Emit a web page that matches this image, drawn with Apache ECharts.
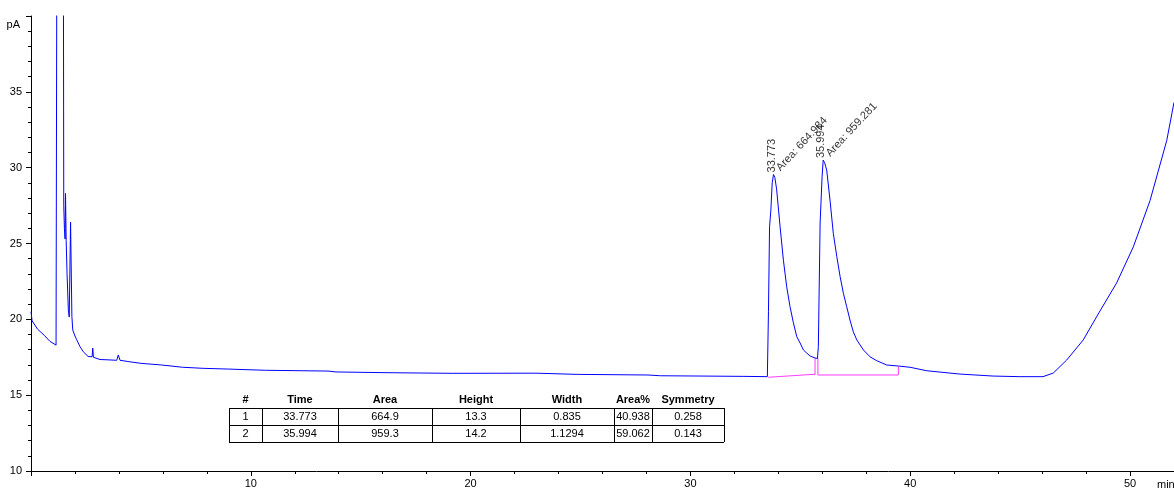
<!DOCTYPE html>
<html>
<head>
<meta charset="utf-8">
<script src="https://cdn.jsdelivr.net/npm/echarts@6/dist/echarts.min.js"></script>
<style>
html,body{margin:0;padding:0;background:#fff;}
#chart{width:1174px;height:491px;}
</style>
</head>
<body>
<div id="chart"></div>
<script>
// ---- chromatogram trace (min, pA) ----
const traceTime = [
  0.00, 0.05, 0.30, 0.60, 0.86, 1.14, 1.17, 1.18, 1.47, 1.49,
  1.52, 1.55, 1.57, 1.60, 1.64, 1.70, 1.74, 1.77, 1.80, 1.86,
  1.90, 1.95, 2.00, 2.08, 2.23, 2.38, 2.60, 2.78, 2.81, 2.84,
  3.14, 3.50, 3.90, 3.97, 4.05, 4.50, 5.00, 5.94, 6.89, 7.83,
  9.00, 10.67, 13.51, 13.88, 16.33, 19.19, 22.97, 24.86, 28.07, 28.64,
  32.43, 33.50, 33.55, 33.60, 33.66, 33.72, 33.78, 33.84, 33.92, 34.08,
  34.23, 34.38, 34.53, 34.68, 34.84, 34.99, 35.14, 35.29, 35.45, 35.67,
  35.78, 35.82, 35.90, 35.99, 36.04, 36.10, 36.20, 36.35, 36.50, 36.66,
  36.81, 36.96, 37.11, 37.26, 37.41, 37.57, 37.87, 38.17, 38.48, 38.93,
  39.46, 39.99, 40.75, 42.27, 43.77, 44.99, 46.04, 46.51, 47.12, 47.87,
  48.58, 49.39, 50.15, 50.91, 51.67, 52.00
];
const traceSignal = [
  20.50, 19.90, 19.35, 18.95, 18.55, 18.30, 18.35, 48.00, 48.00, 27.50,
  26.00, 25.30, 28.30, 25.20, 23.00, 20.60, 20.15, 20.20, 26.40, 20.20,
  19.30, 19.30, 18.90, 18.65, 18.20, 17.86, 17.55, 17.53, 18.10, 17.50,
  17.35, 17.33, 17.30, 17.65, 17.30, 17.20, 17.10, 16.99, 16.84, 16.77,
  16.72, 16.64, 16.59, 16.53, 16.48, 16.44, 16.45, 16.37, 16.33, 16.28,
  16.24, 16.22, 20.50, 26.10, 27.20, 29.00, 29.55, 29.35, 28.60, 26.10,
  23.90, 22.15, 20.85, 19.80, 18.85, 18.44, 17.98, 17.78, 17.58, 17.45,
  17.42, 18.20, 26.35, 29.40, 30.50, 30.35, 29.84, 27.86, 25.67, 24.13,
  22.81, 21.71, 20.83, 19.95, 19.18, 18.64, 17.98, 17.53, 17.27, 16.99,
  16.92, 16.84, 16.61, 16.39, 16.26, 16.22, 16.22, 16.46, 17.32, 18.64,
  20.42, 22.40, 24.78, 27.83, 31.79, 34.30
];

// ---- integration baselines (magenta) ----
const baseline1Time = [33.54, 35.67, 35.67];
const baseline1Signal = [16.18, 16.38, 17.43];
const baseline2Time = [35.80, 35.80, 39.46, 39.46];
const baseline2Signal = [17.43, 16.33, 16.33, 16.88];

// ---- peak annotations ----
const peakApexTime = [33.78, 36.04];
const peakApexSignal = [29.55, 30.50];
const peakRtLabels = ['33.773', '35.994'];
const peakAreaLabels = ['Area: 664.984', 'Area: 959.281'];

// ---- result table ----
const tableHeaders = ['#', 'Time', 'Area', 'Height', 'Width', 'Area%', 'Symmetry'];
const tableRow1 = ['1', '33.773', '664.9', '13.3', '0.835', '40.938', '0.258'];
const tableRow2 = ['2', '35.994', '959.3', '14.2', '1.1294', '59.062', '0.143'];

// ---- axes ticks ----
const xTickInterval = 10;
const yTickInterval = 5;

const FONT = '"Liberation Sans", Arial, sans-serif';
const zip = (a, b) => a.map((v, i) => [v, b[i]]);

const chart = echarts.init(document.getElementById('chart'));

// table layout
const colEdges = [229, 262, 338, 432, 520, 614, 652, 724];
const rowEdges = [408, 425, 442];
const headerY = 400;
const tableGraphics = [];
tableHeaders.forEach((h, i) => {
  tableGraphics.push({
    type: 'text', x: (colEdges[i] + colEdges[i + 1]) / 2, y: headerY,
    style: { text: h, font: 'bold 11px ' + FONT, fill: '#000', textAlign: 'center', textVerticalAlign: 'middle' }
  });
});
[tableRow1, tableRow2].forEach((row, r) => {
  row.forEach((c, i) => {
    tableGraphics.push({
      type: 'text', x: (colEdges[i] + colEdges[i + 1]) / 2, y: (rowEdges[r] + rowEdges[r + 1]) / 2 + 0.5,
      style: { text: c, font: '11px ' + FONT, fill: '#000', textAlign: 'center', textVerticalAlign: 'middle' }
    });
  });
});
rowEdges.forEach(y => {
  tableGraphics.push({ type: 'line', shape: { x1: colEdges[0], y1: y + 0.5, x2: colEdges[colEdges.length - 1], y2: y + 0.5 }, style: { stroke: '#000', lineWidth: 1 } });
});
colEdges.forEach(x => {
  tableGraphics.push({ type: 'line', shape: { x1: x + 0.5, y1: rowEdges[0], x2: x + 0.5, y2: rowEdges[rowEdges.length - 1] }, style: { stroke: '#000', lineWidth: 1 } });
});

const option = {
  animation: false,
  backgroundColor: '#fff',
  grid: { left: 31, right: 0, top: 16, bottom: 20, containLabel: false, outerBoundsMode: 'none' },
  xAxis: {
    type: 'value', min: 0, max: 52, interval: xTickInterval,
    name: 'min', nameLocation: 'end', nameGap: -17,
    nameTextStyle: { color: '#000', fontSize: 11, fontFamily: FONT, align: 'left', verticalAlign: 'top', padding: [8, 0, 0, 0] },
    axisLine: { show: true, onZero: false, lineStyle: { color: '#000', width: 1 } },
    axisTick: { show: true, length: 5, lineStyle: { color: '#000' } },
    minorTick: { show: true, splitNumber: 5, length: 3, lineStyle: { color: '#000' } },
    axisLabel: { showMinLabel: false, showMaxLabel: false, color: '#000', fontSize: 11, fontFamily: FONT, margin: 7 },
    splitLine: { show: false }
  },
  yAxis: {
    type: 'value', min: 10, max: 40, interval: yTickInterval,
    name: 'pA', nameLocation: 'end', nameGap: -9,
    nameTextStyle: { color: '#000', fontSize: 11, fontFamily: FONT, align: 'right', verticalAlign: 'middle', padding: [0, 11, 0, 0] },
    axisLine: { show: true, onZero: false, lineStyle: { color: '#000', width: 1 } },
    axisTick: { show: true, length: 5, lineStyle: { color: '#000' } },
    minorTick: { show: true, splitNumber: 5, length: 3, lineStyle: { color: '#000' } },
    axisLabel: { showMaxLabel: false, color: '#000', fontSize: 11, fontFamily: FONT, margin: 9 },
    splitLine: { show: false }
  },
  series: [
    {
      type: 'line', data: zip(baseline1Time, baseline1Signal), showSymbol: false, symbol: 'none',
      lineStyle: { color: '#ff3cff', width: 1 }, z: 2, silent: true
    },
    {
      type: 'line', data: zip(baseline2Time, baseline2Signal), showSymbol: false, symbol: 'none',
      lineStyle: { color: '#ff3cff', width: 1 }, z: 2, silent: true
    },
    {
      type: 'line', data: zip(traceTime, traceSignal), showSymbol: false, symbol: 'none',
      lineStyle: { color: '#0000ff', width: 1 }, clip: true, z: 3, silent: true
    },
    {
      type: 'scatter', symbolSize: 0, silent: true, z: 4,
      data: zip(peakApexTime, peakApexSignal).map((p, i) => ({ value: p, rt: peakRtLabels[i] })),
      label: {
        show: true, position: [0, 0], offset: [2, -2], rotate: 90, align: 'left', verticalAlign: 'middle',
        fontSize: 11, fontFamily: FONT, color: '#000',
        formatter: p => p.data.rt
      }
    },
    {
      type: 'scatter', symbolSize: 0, silent: true, z: 4,
      data: zip(peakApexTime, peakApexSignal).map((p, i) => ({ value: p, area: peakAreaLabels[i] })),
      label: {
        show: true, position: [0, 0], offset: [7, 0], rotate: 47, align: 'left', verticalAlign: 'middle',
        fontSize: 11, fontFamily: FONT, color: '#000',
        formatter: p => p.data.area
      }
    }
  ],
  graphic: tableGraphics
};
chart.setOption(option);
</script>
</body>
</html>
